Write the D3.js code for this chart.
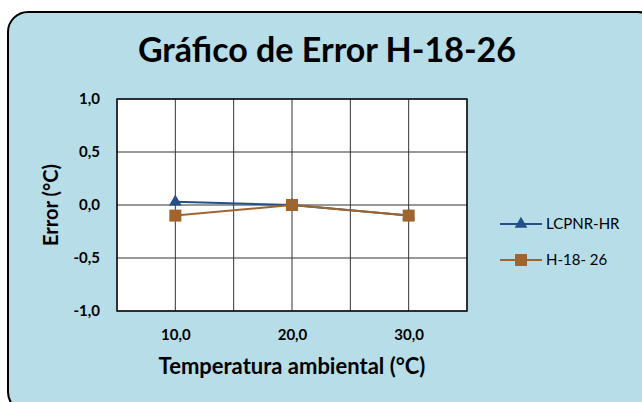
<!DOCTYPE html>
<html><head><meta charset="utf-8">
<script src="https://cdn.jsdelivr.net/npm/d3@7"></script>
<style>html,body{margin:0;padding:0;background:#fff;overflow:hidden;}</style>
</head><body>
<svg id="c" width="642" height="402"></svg>
<script>
const categories = [10, 20, 30];
const seriesNames = ["LCPNR-HR", "H-18- 26"];
const lcpnr = [0.03, 0.0, -0.1];
const h1826 = [-0.1, 0.0, -0.1];
const yTicks = [-1, -0.5, 0, 0.5, 1];
const xGrid = [5, 10, 15, 20, 25, 30, 35];

const svg = d3.select("#c");
const font = "Lato, 'Open Sans', sans-serif";
const fmt = v => d3.format(".1f")(v).replace(".", ",").replace("−", "-");

svg.append("rect").attr("x", 8).attr("y", 12).attr("width", 650).attr("height", 400)
  .attr("rx", 20).attr("fill", "#b7dde8").attr("stroke", "#000").attr("stroke-width", 2);

svg.append("text").attr("x", 327).attr("y", 62).attr("text-anchor", "middle")
  .attr("font-family", font).attr("font-weight", "bold").attr("font-size", 34).attr("fill", "#000")
  .text("Gráfico de Error H-18-26");

const L = 117, R = 467, T = 99, B = 311;
const x = d3.scaleLinear().domain([5, 35]).range([L, R]);
const y = d3.scaleLinear().domain([-1, 1]).range([B, T]);

svg.append("rect").attr("x", L).attr("y", T).attr("width", R - L).attr("height", B - T).attr("fill", "#fff");

const g = svg.append("g");
g.selectAll(".vg").data(xGrid).join("line")
  .attr("x1", d => x(d)).attr("x2", d => x(d)).attr("y1", T).attr("y2", B)
  .attr("stroke", "#333").attr("stroke-width", 1);
g.selectAll(".hg").data(yTicks).join("line")
  .attr("x1", L).attr("x2", R).attr("y1", d => y(d)).attr("y2", d => y(d))
  .attr("stroke", "#333").attr("stroke-width", 1);
svg.append("rect").attr("x", L).attr("y", T).attr("width", R - L).attr("height", B - T)
  .attr("fill", "none").attr("stroke", "#111").attr("stroke-width", 1.5);

const yAxis = d3.axisLeft(y).tickValues(yTicks).tickFormat(fmt).tickSize(0).tickPadding(17);
const ya = svg.append("g").attr("transform", `translate(${L},0)`).call(yAxis);
ya.select(".domain").remove();
ya.selectAll("text").attr("font-family", font).attr("font-weight", "bold").attr("font-size", 15).attr("fill", "#000");

const xAxis = d3.axisBottom(x).tickValues(categories).tickFormat(fmt).tickSize(0).tickPadding(18);
const xa = svg.append("g").attr("transform", `translate(0,${B})`).call(xAxis);
xa.select(".domain").remove();
xa.selectAll("text").attr("font-family", font).attr("font-weight", "bold").attr("font-size", 15).attr("fill", "#000");

svg.append("text").attr("x", 292).attr("y", 374).attr("text-anchor", "middle")
  .attr("font-family", font).attr("font-weight", "bold").attr("font-size", 22).attr("fill", "#000")
  .text("Temperatura ambiental (°C)");
svg.append("text").attr("transform", `translate(58,${(T + B) / 2}) rotate(-90)`).attr("text-anchor", "middle")
  .attr("font-family", font).attr("font-weight", "bold").attr("font-size", 20).attr("fill", "#000")
  .text("Error (°C)");

const blue = "#24508a", brown = "#a0652f";
const line = d3.line().x((d, i) => x(categories[i])).y(d => y(d));
svg.append("path").datum(lcpnr).attr("d", line).attr("fill", "none").attr("stroke", blue).attr("stroke-width", 2);
svg.append("path").datum(h1826).attr("d", line).attr("fill", "none").attr("stroke", brown).attr("stroke-width", 2);

const tri = d3.symbol().type(d3.symbolTriangle).size(70);
svg.selectAll(".tri").data(lcpnr).join("path")
  .attr("transform", (d, i) => `translate(${x(categories[i])},${y(d)})`).attr("d", tri).attr("fill", blue);
svg.selectAll(".sq").data(h1826).join("rect")
  .attr("x", (d, i) => x(categories[i]) - 6).attr("y", d => y(d) - 6)
  .attr("width", 12).attr("height", 12).attr("fill", brown);

const lg = svg.append("g");
const ly = [224, 260];
[blue, brown].forEach((c, i) => {
  lg.append("line").attr("x1", 500).attr("x2", 542).attr("y1", ly[i]).attr("y2", ly[i]).attr("stroke", c).attr("stroke-width", 2);
  if (i === 0) lg.append("path").attr("transform", `translate(521,${ly[i]})`).attr("d", tri).attr("fill", c);
  else lg.append("rect").attr("x", 515).attr("y", ly[i] - 6).attr("width", 12).attr("height", 12).attr("fill", c);
  lg.append("text").attr("x", 546).attr("y", ly[i] + 5).attr("font-family", font).attr("font-size", 15).attr("fill", "#000")
    .text(seriesNames[i]);
});
</script>
</body></html>
